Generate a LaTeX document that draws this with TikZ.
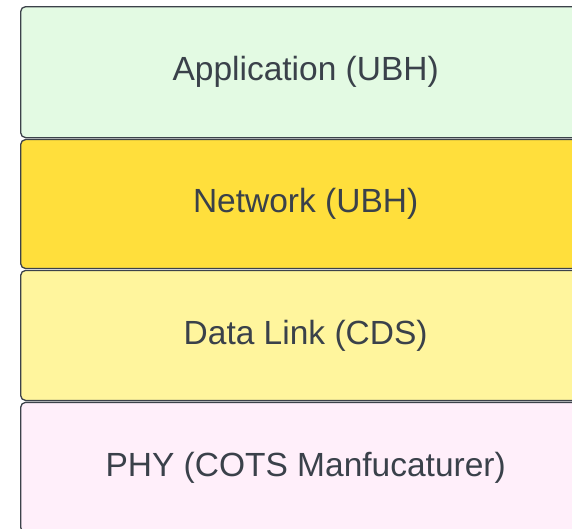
\documentclass[tikz,border=0pt]{standalone}
\usepackage{fontspec}
\setmainfont{Liberation Sans}
\usetikzlibrary{positioning}
\definecolor{appgreen}{RGB}{227,250,227}
\definecolor{netyellow}{RGB}{255,223,60}
\definecolor{linkyellow}{RGB}{255,245,157}
\definecolor{phypink}{RGB}{255,239,250}
\definecolor{layeredge}{RGB}{60,66,74}
\definecolor{layertext}{RGB}{58,65,74}
\tikzset{layer/.style={rectangle,draw=layeredge,line width=1.3pt,rounded corners=5pt,
  minimum width=570pt,minimum height=130pt,inner sep=0pt,text=layertext,
  font=\fontsize{33.5}{40}\selectfont}}
\begin{document}
\begin{tikzpicture}[x=1pt,y=-1pt]
\useasboundingbox (0,0) rectangle (572,528);
\clip (0,0) rectangle (572,528);
\node[layer,fill=appgreen,anchor=north west,minimum height=131pt] (app) at (20,6) {Application (UBH)};
\node[layer,fill=netyellow,below=0.6pt of app,minimum height=129pt] (net) {Network (UBH)};
\node[layer,fill=linkyellow,below=0.6pt of net] (link) {Data Link (CDS)};
\node[layer,fill=phypink,below=0.6pt of link] (phy) {PHY (COTS Manfucaturer)};
\end{tikzpicture}
\end{document}
